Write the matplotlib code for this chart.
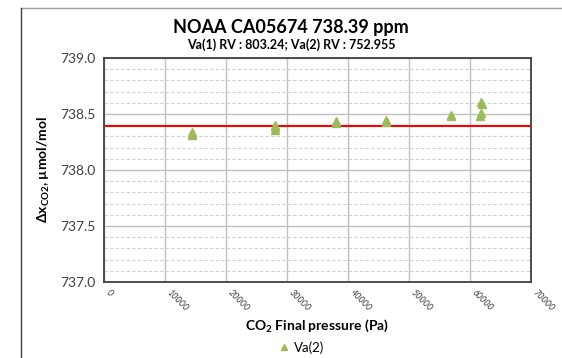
import matplotlib.pyplot as plt
from matplotlib.ticker import MultipleLocator
from matplotlib.lines import Line2D

plt.rcParams['font.family'] = ['Lato', 'DejaVu Sans']
plt.rcParams['mathtext.fontset'] = 'custom'
plt.rcParams['mathtext.rm'] = 'Lato'
plt.rcParams['mathtext.bf'] = 'Lato:bold'
plt.rcParams['mathtext.it'] = 'Lato:italic'

title = "NOAA CA05674 738.39 ppm"
subtitle = "Va(1) RV : 803.24; Va(2) RV : 752.955"
ref_value = 738.39

# Va(2) points: final pressure (Pa) and delta x CO2
pressure = [14400, 14400, 14400, 28100, 28100, 28100, 38000, 38000,
            46300, 46300, 56800, 56800, 61700, 61800, 61900, 61800]
xco2 = [738.31, 738.32, 738.34, 738.36, 738.38, 738.40, 738.42, 738.44,
        738.43, 738.45, 738.48, 738.49, 738.48, 738.51, 738.59, 738.61]

x_ticks = [0, 10000, 20000, 30000, 40000, 50000, 60000, 70000]

fig = plt.figure(figsize=(5.62, 3.58), dpi=100)
ax = fig.add_axes([0.185, 0.2123, 0.76, 0.626])

ax.plot(pressure, xco2, linestyle="none", marker="^", markersize=5.5,
        color="#9BBB59", zorder=4)
ax.axhline(ref_value, color="#FF0000", lw=1.5, zorder=3)

ax.set_xlim(0, 70000)
ax.set_ylim(737.0, 739.0)
ax.set_xticks(x_ticks)
ax.set_xticklabels([str(t) for t in x_ticks], rotation=-45, ha="left",
                   va="top", fontsize=6.5, style="italic", color="#404040")
ax.yaxis.set_major_locator(MultipleLocator(0.5))
ax.yaxis.set_minor_locator(MultipleLocator(0.1))
ax.yaxis.set_major_formatter(plt.FormatStrFormatter("%.1f"))
ax.tick_params(axis="y", labelsize=10, labelcolor="#404040", length=0, pad=6)
ax.tick_params(axis="y", which="minor", length=0)
ax.tick_params(axis="x", length=0, pad=4)

ax.grid(True, which="major", color="#BFBFBF", lw=1.0)
ax.grid(True, which="minor", axis="y", color="#D0D0D0", lw=0.8, linestyle=(0, (3, 2)))
ax.set_axisbelow(True)
for s in ax.spines.values():
    s.set_color("#404040")
    s.set_linewidth(1.3)

ax.set_ylabel(r"$\mathbf{\Delta x}_{\mathbf{CO2}}$, µmol/mol", fontsize=10,
              fontweight="bold", labelpad=6)
ax.set_xlabel(r"CO$_\mathbf{2}$ Final pressure (Pa)", fontsize=10,
              fontweight="bold", labelpad=4)

fig.text(0.518, 0.922, title, ha="center", va="center", fontsize=13,
         fontweight="bold")
fig.text(0.518, 0.875, subtitle, ha="center", va="center", fontsize=9,
         fontweight="bold")

handle = Line2D([], [], linestyle="none", marker="^", markersize=4,
                color="#9BBB59")
fig.legend([handle], ["Va(2)"], loc="center", bbox_to_anchor=(0.535, 0.03),
           frameon=False, fontsize=9.5, handletextpad=0.2, handlelength=1)

# outer frame lines (top and left)
fig.add_artist(Line2D([0.037, 1.0], [0.978, 0.978], color="#A0A0A0", lw=1))
fig.add_artist(Line2D([0.037, 0.037], [0.0, 0.978], color="#404040", lw=1))

fig.savefig("out.png", dpi=100)
